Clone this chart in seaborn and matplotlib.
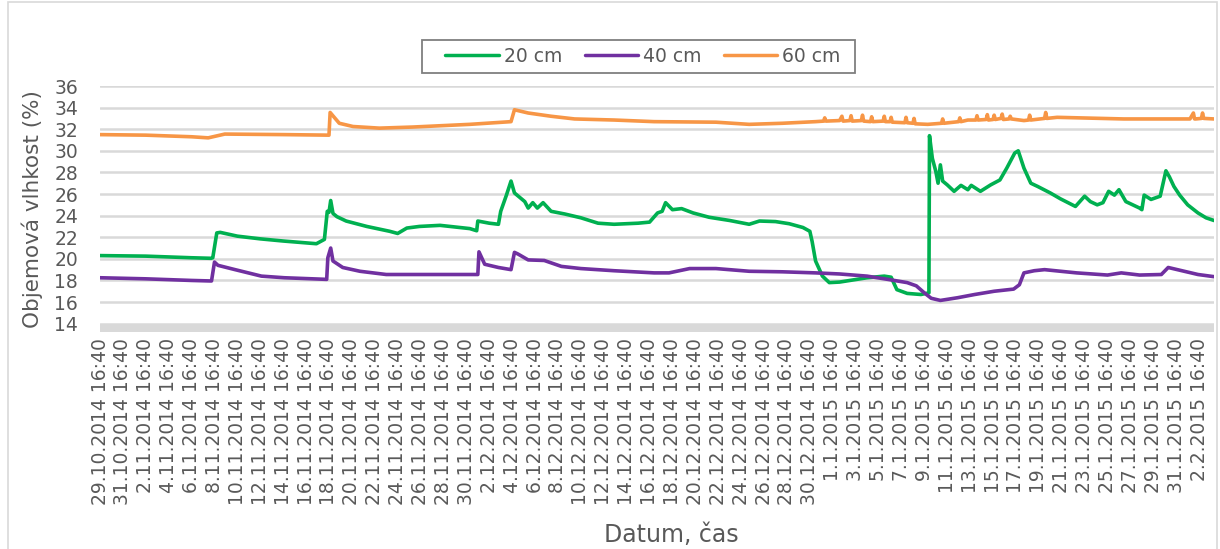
import numpy as np
import pandas as pd
import matplotlib
matplotlib.use("Agg")
import matplotlib.pyplot as plt
from matplotlib.patches import Rectangle
import seaborn as sns

# casove body (dny od 29.10.2014 16:40) a objemova vlhkost (%)
dny_20 = [0, 4, 8, 9.7, 9.85, 10.2, 10.5, 12, 14, 16, 18.9, 19.6, 19.85, 20.0, 20.15, 20.35,
          20.7, 21.5, 23.3, 25.3, 26.0, 26.8, 27.9, 29.7, 32.3, 32.9, 33.0, 34.0, 34.8, 35.0,
          35.5, 35.9, 36.2, 37.1, 37.4, 37.8, 38.2, 38.7, 39.4, 40.6, 42.0, 43.5, 44.9, 47.0,
          48.0, 48.7, 49.1, 49.4, 50.0, 50.8, 51.8, 53.2, 55.0, 56.7, 57.6, 59.0, 60.2, 61.4,
          62.0, 62.2, 62.5, 63.1, 63.7, 64.6, 67.0, 68.5, 69.1, 69.6, 70.5, 71.7, 72.4, 72.45,
          72.7, 73.0, 73.2, 73.4, 73.6, 74.0, 74.6, 75.2, 75.8, 76.1, 76.9, 77.8, 78.6, 79.2,
          79.9, 80.2, 80.7, 81.3, 81.9, 83.0, 83.9, 85.2, 86.0, 86.5, 87.1, 87.6, 88.1, 88.6,
          89.0, 89.6, 90.8, 91.0, 91.2, 91.8, 92.6, 93.1, 93.4, 93.8, 94.3, 95.0, 95.9, 96.6, 97.3]
vlhkost_20 = [20.3, 20.25, 20.1, 20.05, 20.1, 22.4, 22.45, 22.1, 21.85, 21.65, 21.4, 21.8, 24.4, 24.3,
              25.4, 24.2, 23.9, 23.5, 23.0, 22.55, 22.35, 22.85, 23.0, 23.1, 22.8, 22.6, 23.5, 23.3,
              23.2, 24.4, 25.9, 27.2, 26.1, 25.3, 24.7, 25.2, 24.7, 25.2, 24.4, 24.15, 23.8, 23.3,
              23.2, 23.3, 23.4, 24.25, 24.4, 25.2, 24.55, 24.65, 24.25, 23.85, 23.55, 23.2, 23.5,
              23.45, 23.25, 22.9, 22.55, 21.6, 19.8, 18.4, 17.8, 17.85, 18.25, 18.4, 18.3, 17.15,
              16.8, 16.7, 16.85, 31.4, 29.3, 28.1, 27.0, 28.7, 27.2, 26.85, 26.25, 26.8, 26.4, 26.8,
              26.25, 26.85, 27.3, 28.4, 29.8, 30.0, 28.4, 27.0, 26.7, 26.1, 25.55, 24.85, 25.8,
              25.3, 25.0, 25.2, 26.25, 25.9, 26.4, 25.3, 24.7, 24.55, 25.9, 25.5, 25.8, 28.15,
              27.6, 26.7, 25.9, 25.0, 24.25, 23.8, 23.55]

dny_40 = [0, 4, 8, 9.74, 10.0, 10.3, 11.8, 14.1, 16.1, 19.8, 19.9, 20.15, 20.35, 21.2, 22.7, 25.0,
          32.3, 33.0, 33.1, 33.6, 34.8, 35.9, 36.2, 36.5, 37.4, 38.8, 40.3, 42.0, 44.9, 48.4, 49.7,
          51.5, 53.8, 56.7, 59.6, 62.5, 64.6, 67.0, 68.8, 70.5, 71.3, 72.0, 72.6, 73.4, 74.9, 76.4,
          78.1, 79.8, 80.3, 80.7, 81.6, 82.5, 85.3, 88.0, 89.2, 90.8, 92.7, 93.3, 94.1, 95.9, 97.3]
vlhkost_40 = [18.25, 18.15, 18.0, 17.95, 19.7, 19.4, 19.0, 18.4, 18.25, 18.1, 20.1, 21.0, 19.8, 19.2,
              18.85, 18.55, 18.55, 18.55, 20.65, 19.5, 19.2, 19.0, 20.6, 20.45, 19.9, 19.85, 19.3,
              19.1, 18.9, 18.7, 18.7, 19.1, 19.1, 18.85, 18.8, 18.7, 18.6, 18.4, 18.1, 17.8, 17.5,
              16.85, 16.35, 16.15, 16.4, 16.7, 17.0, 17.2, 17.6, 18.7, 18.9, 19.0, 18.7, 18.5, 18.7,
              18.5, 18.55, 19.2, 19.0, 18.55, 18.35]

dny_60 = [0, 4, 8, 9.45, 10.9, 16.1, 20.0, 20.1, 20.9, 22.1, 24.4, 27.3, 32.3, 35.9, 36.2, 37.4,
          39.4, 41.45, 44.9, 48.4, 53.8, 56.7, 59.6, 62.5, 63.2, 63.3, 63.4, 64.6, 64.8, 64.9,
          65.5, 65.6, 65.7, 66.5, 66.6, 66.7, 67.3, 67.4, 67.5, 68.4, 68.5, 68.6, 69.0, 69.1, 69.2,
          70.3, 70.4, 70.5, 71.0, 71.1, 71.2, 72.3, 73.5, 73.6, 73.7, 75.0, 75.1, 75.2, 75.8, 76.5,
          76.6, 76.7, 77.4, 77.5, 77.6, 78.0, 78.1, 78.2, 78.7, 78.8, 78.9, 79.4, 79.5, 79.6, 80.7,
          81.1, 81.2, 81.3, 82.5, 82.6, 82.7, 83.6, 89.4, 95.2, 95.5, 95.6, 95.7, 96.2, 96.3, 96.4,
          97.3]
vlhkost_60 = [31.5, 31.45, 31.3, 31.2, 31.55, 31.5, 31.45, 33.55, 32.55, 32.25, 32.1, 32.2, 32.45,
              32.7, 33.8, 33.5, 33.2, 32.95, 32.85, 32.7, 32.65, 32.45, 32.55, 32.7, 32.75, 33.05,
              32.75, 32.8, 33.2, 32.75, 32.8, 33.25, 32.75, 32.8, 33.3, 32.75, 32.7, 33.15, 32.7,
              32.75, 33.2, 32.7, 32.7, 33.1, 32.65, 32.6, 33.1, 32.6, 32.55, 33.0, 32.5, 32.45, 32.55,
              32.95, 32.55, 32.7, 33.05, 32.7, 32.85, 32.85, 33.25, 32.85, 32.9, 33.35, 32.85, 32.9,
              33.3, 32.9, 33.0, 33.4, 32.9, 32.95, 33.2, 32.95, 32.8, 32.85, 33.3, 32.85, 33.0, 33.55,
              33.0, 33.1, 32.95, 32.95, 33.5, 32.95, 32.95, 33.0, 33.5, 33.0, 32.95]

hloubky = ["20 cm", "40 cm", "60 cm"]
barvy = ["#00b050", "#7030a0", "#f79646"]

start = pd.Timestamp("2014-10-29 16:40")
frames = []
for h, d, v in zip(hloubky, [dny_20, dny_40, dny_60], [vlhkost_20, vlhkost_40, vlhkost_60]):
    frames.append(pd.DataFrame({"cas": start + pd.to_timedelta(d, unit="D"),
                                "vlhkost": v, "hloubka": h}))
df = pd.concat(frames, ignore_index=True)

tick_dates = pd.date_range(start, periods=49, freq="2D")
tick_labels = [f"{t.day}.{t.month}.{t.year} {t:%H:%M}" for t in tick_dates]

sns.set_style("white")
plt.rcParams["font.family"] = ["DejaVu Sans"]
seda = "#595959"

W, H = 1220, 549
fig = plt.figure(figsize=(W / 100, H / 100), dpi=100)
ax = fig.add_axes([100 / W, 1 - 332.3 / H, 1114 / W, 246.3 / H])

ax.axhspan(13.2, 14, color="#d9d9d9", lw=0, zorder=1)
sns.lineplot(data=df, x="cas", y="vlhkost", hue="hloubka", palette=dict(zip(hloubky, barvy)),
             estimator=None, linewidth=2.6, ax=ax, zorder=3)

ax.set_xlim(start, start + pd.Timedelta(days=97.3))
ax.set_ylim(13.2, 36)
ax.set_yticks(range(14, 37, 2))
ax.set_xticks(tick_dates)
ax.set_xticklabels(tick_labels, rotation=90)
ax.grid(axis="y", color="#d9d9d9", lw=1.8, zorder=0)
ax.grid(axis="x", visible=False)
for s in ax.spines.values():
    s.set_visible(False)
ax.tick_params(axis="y", length=0, pad=15.8, labelsize=13.5, labelcolor=seda)
ax.tick_params(axis="x", length=0, pad=4.3, labelsize=13.5, labelcolor=seda)

ax.set_ylabel("Objemová vlhkost (%)", fontsize=15.5, color=seda)
ax.yaxis.set_label_coords(-57 / 1114, 0.5)
ax.set_xlabel("Datum, čas", fontsize=17, color=seda)
ax.xaxis.set_label_coords(571 / 1114, -(523 - 332.3) / 246.3)

handles, labels = ax.get_legend_handles_labels()
ax.get_legend().remove()
leg = fig.legend(handles, labels, loc="center", bbox_to_anchor=(643 / W, 1 - 56 / H), ncol=3,
                 frameon=False, handlelength=2.85, handletextpad=0.27, columnspacing=1.2,
                 fontsize=13.5)
for t in leg.get_texts():
    t.set_color(seda)
for l in leg.get_lines():
    l.set_linewidth(2.5)

fig.add_artist(Rectangle((421.7 / W, 1 - 72.7 / H), 433 / W, 32.7 / H, transform=fig.transFigure,
                         fill=False, ec="#7f7f7f", lw=1.3))
fig.add_artist(Rectangle((8 / W, -0.05), 1209 / W, 1.05 - 2 / H, transform=fig.transFigure,
                         fill=False, ec="#d9d9d9", lw=1.2))

fig.savefig("out.png", dpi=100, facecolor="white")
